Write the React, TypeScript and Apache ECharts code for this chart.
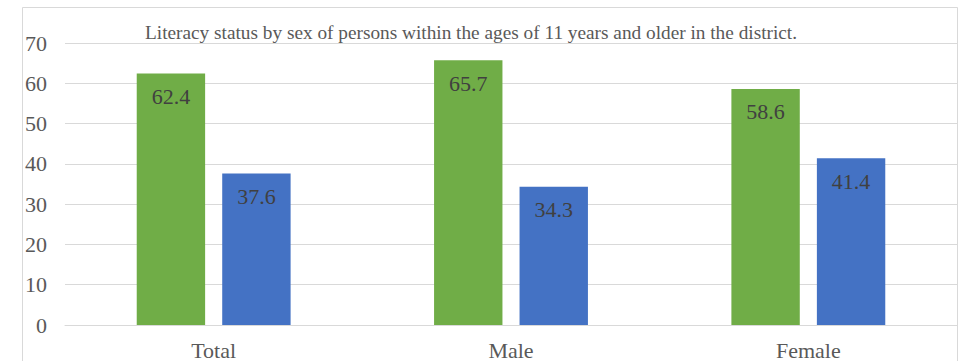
import React, { useEffect, useRef } from "react";
import * as echarts from "echarts";

const categories = ["Total", "Male", "Female"];
const literate = [62.4, 65.7, 58.6];
const illiterate = [37.6, 34.3, 41.4];
const titleText = "Literacy status by sex of persons within the ages of 11 years and older in the district.";

const FONT = "Liberation Serif";

export default function App() {
  const ref = useRef<HTMLDivElement>(null);
  useEffect(() => {
    if (!ref.current) return;
    const chart = echarts.init(ref.current, null, { renderer: "svg" });
    const label = {
      show: true,
      position: "insideTop",
      distance: 12,
      fontSize: 22,
      fontFamily: FONT,
      color: "#404040",
    };
    chart.setOption({
      animation: false,
      backgroundColor: "#ffffff",
      title: {
        text: titleText,
        left: 145,
        top: 23,
        padding: 0,
        textStyle: { fontSize: 19.3, fontWeight: "normal", fontFamily: FONT, color: "#595959" },
      },
      graphic: [
        {
          type: "rect",
          shape: { x: 22.5, y: 7.5, width: 935, height: 420 },
          style: { fill: "none", stroke: "#d9d9d9", lineWidth: 1 },
          silent: true,
          z: -10,
        },
      ],
      grid: { left: 65, right: 3, top: 43, bottom: 36, containLabel: false },
      xAxis: {
        type: "category",
        data: categories,
        axisLine: { show: true, lineStyle: { color: "#d9d9d9", width: 1 } },
        axisTick: { show: false },
        axisLabel: { fontSize: 22, fontFamily: FONT, color: "#595959", margin: 14 },
      },
      yAxis: {
        type: "value",
        min: 0,
        max: 70,
        interval: 10,
        axisLine: { show: false },
        axisTick: { show: false },
        splitLine: { lineStyle: { color: "#d9d9d9", width: 1 } },
        axisLabel: { fontSize: 22, fontFamily: FONT, color: "#595959", margin: 18 },
      },
      series: [
        {
          name: "Literate",
          type: "bar",
          data: literate,
          barWidth: "23%",
          barGap: "25%",
          itemStyle: { color: "#70ad47" },
          label,
        },
        {
          name: "Illiterate",
          type: "bar",
          data: illiterate,
          barWidth: "23%",
          itemStyle: { color: "#4472c4" },
          label,
        },
      ],
    });
    return () => chart.dispose();
  }, []);
  return (
    <div
      ref={ref}
      style={{ position: "fixed", left: 0, top: 0, width: 960, height: 361 }}
    />
  );
}
